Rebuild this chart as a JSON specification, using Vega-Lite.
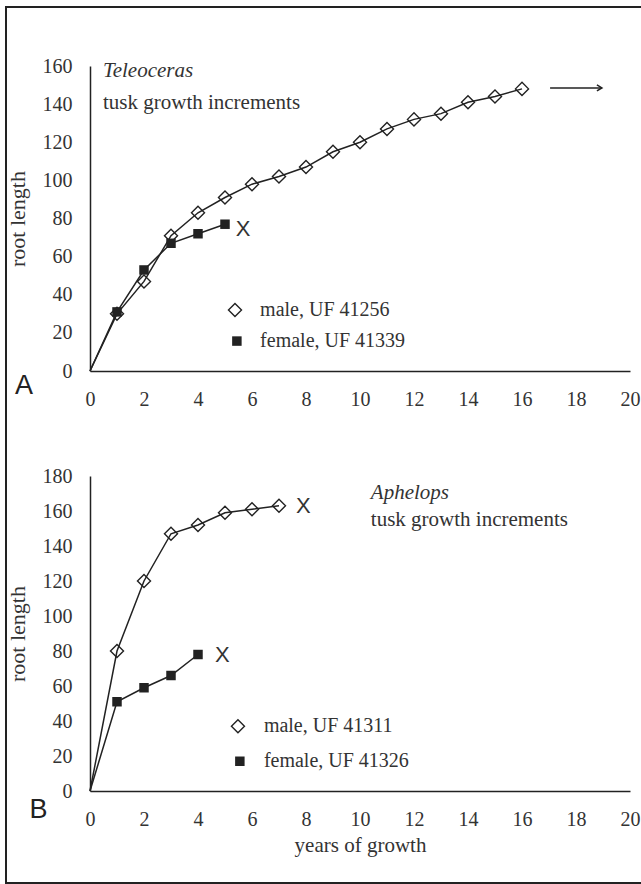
{
  "$schema": "https://vega.github.io/schema/vega-lite/v6.json",
  "background": "white",
  "padding": {"left": 5, "top": 5, "right": 0, "bottom": 0},
  "bounds": "flush",
  "spacing": 105,
  "config": {
    "view": {"stroke": null},
    "axis": {
      "domainColor": "#222", "domainWidth": 1.5, "ticks": false, "tickSize": 0, "grid": false,
      "labelFont": "Liberation Serif", "labelFontSize": 20, "labelColor": "#333",
      "labelFlush": false, "labelOverlap": false,
      "titleFont": "Liberation Serif", "titleFontSize": 21, "titleFontWeight": "normal", "titleColor": "#333"
    },
    "axisX": {"labelPadding": 18, "titlePadding": 5},
    "axisY": {"labelPadding": 18, "titlePadding": 13, "titleFontSize": 22}
  },
  "datasets": {
    "teleoceras": [
      {"year": 0, "length": 0, "sex": "male"},
      {"year": 1, "length": 30, "sex": "male"},
      {"year": 2, "length": 47, "sex": "male"},
      {"year": 3, "length": 71, "sex": "male"},
      {"year": 4, "length": 83, "sex": "male"},
      {"year": 5, "length": 91, "sex": "male"},
      {"year": 6, "length": 98, "sex": "male"},
      {"year": 7, "length": 102, "sex": "male"},
      {"year": 8, "length": 107, "sex": "male"},
      {"year": 9, "length": 115, "sex": "male"},
      {"year": 10, "length": 120, "sex": "male"},
      {"year": 11, "length": 127, "sex": "male"},
      {"year": 12, "length": 132, "sex": "male"},
      {"year": 13, "length": 135, "sex": "male"},
      {"year": 14, "length": 141, "sex": "male"},
      {"year": 15, "length": 144, "sex": "male"},
      {"year": 16, "length": 148, "sex": "male"},
      {"year": 0, "length": 0, "sex": "female"},
      {"year": 1, "length": 31, "sex": "female"},
      {"year": 2, "length": 53, "sex": "female"},
      {"year": 3, "length": 67, "sex": "female"},
      {"year": 4, "length": 72, "sex": "female"},
      {"year": 5, "length": 77, "sex": "female"}
    ],
    "aphelops": [
      {"year": 0, "length": 0, "sex": "male"},
      {"year": 1, "length": 80, "sex": "male"},
      {"year": 2, "length": 120, "sex": "male"},
      {"year": 3, "length": 147, "sex": "male"},
      {"year": 4, "length": 152, "sex": "male"},
      {"year": 5, "length": 159, "sex": "male"},
      {"year": 6, "length": 161, "sex": "male"},
      {"year": 7, "length": 163, "sex": "male"},
      {"year": 0, "length": 0, "sex": "female"},
      {"year": 1, "length": 51, "sex": "female"},
      {"year": 2, "length": 59, "sex": "female"},
      {"year": 3, "length": 66, "sex": "female"},
      {"year": 4, "length": 78, "sex": "female"}
    ],
    "one": [{"k": 1}]
  },
  "vconcat": [
    {
      "width": 540, "height": 305,
      "resolve": {"axis": {"x": "independent", "y": "independent"}},
      "layer": [
        {"data": {"name": "teleoceras"},
         "mark": {"type": "line", "color": "#222", "strokeWidth": 1.5},
         "encoding": {
           "x": {"field": "year", "type": "quantitative", "scale": {"domain": [0, 20]},
                 "axis": {"values": [0, 2, 4, 6, 8, 10, 12, 14, 16, 18, 20], "title": null, "labelOverlap": false}},
           "y": {"field": "length", "type": "quantitative", "scale": {"domain": [0, 160]},
                 "axis": {"values": [0, 20, 40, 60, 80, 100, 120, 140, 160], "title": "root length", "labelOverlap": false}},
           "detail": {"field": "sex"}}},
        {"data": {"name": "one"},
         "mark": {"type": "rect", "fill": null, "stroke": "#222", "strokeWidth": 2},
         "encoding": {"x": {"datum": -3.111, "type": "quantitative", "axis": null}, "x2": {"datum": 21.5}, "y": {"datum": 190.97, "type": "quantitative", "axis": null}, "y2": {"datum": -268.6}}},
        {"data": {"name": "teleoceras"},
         "transform": [{"filter": "datum.sex == 'male' && datum.year > 0"}],
         "mark": {"type": "point", "shape": "diamond", "filled": false, "color": "#222", "strokeWidth": 1.4, "size": 170, "opacity": 1},
         "encoding": {"x": {"field": "year", "type": "quantitative", "axis": null}, "y": {"field": "length", "type": "quantitative", "axis": null}}},
        {"data": {"name": "teleoceras"},
         "transform": [{"filter": "datum.sex == 'female' && datum.year > 0"}],
         "mark": {"type": "point", "shape": "square", "filled": true, "color": "#222", "size": 90, "opacity": 1},
         "encoding": {"x": {"field": "year", "type": "quantitative", "axis": null}, "y": {"field": "length", "type": "quantitative", "axis": null}}},
        {"data": {"name": "one"},
         "mark": {"type": "text", "text": "Teleoceras", "font": "Liberation Serif", "fontStyle": "italic", "fontSize": 21, "align": "left", "baseline": "alphabetic", "color": "#333"},
         "encoding": {"x": {"datum": 0.48, "type": "quantitative", "axis": null}, "y": {"datum": 154.2, "type": "quantitative", "axis": null}}},
        {"data": {"name": "one"},
         "mark": {"type": "text", "text": "tusk growth increments", "font": "Liberation Serif", "fontSize": 21, "align": "left", "baseline": "alphabetic", "color": "#333"},
         "encoding": {"x": {"datum": 0.48, "type": "quantitative", "axis": null}, "y": {"datum": 137.5, "type": "quantitative", "axis": null}}},
        {"data": {"name": "one"},
         "mark": {"type": "text", "text": "X", "font": "Liberation Sans", "fontSize": 22, "align": "center", "baseline": "middle", "color": "#333"},
         "encoding": {"x": {"datum": 5.67, "type": "quantitative", "axis": null}, "y": {"datum": 74.5, "type": "quantitative", "axis": null}}},
        {"data": {"name": "one"},
         "mark": {"type": "rule", "color": "#222", "strokeWidth": 1.5},
         "encoding": {"x": {"datum": 17.04, "type": "quantitative", "axis": null}, "x2": {"datum": 18.96}, "y": {"datum": 148.5, "type": "quantitative", "axis": null}}},
        {"data": {"name": "one"},
         "mark": {"type": "point", "shape": "M-1,-0.6L0,0L-1,0.6", "filled": false, "color": "#222", "strokeWidth": 1.5, "size": 100, "opacity": 1},
         "encoding": {"x": {"datum": 18.96, "type": "quantitative", "axis": null}, "y": {"datum": 148.5, "type": "quantitative", "axis": null}}},
        {"data": {"name": "one"},
         "mark": {"type": "point", "shape": "diamond", "filled": false, "color": "#222", "strokeWidth": 1.4, "size": 170, "opacity": 1},
         "encoding": {"x": {"datum": 5.37, "type": "quantitative", "axis": null}, "y": {"datum": 32, "type": "quantitative", "axis": null}}},
        {"data": {"name": "one"},
         "mark": {"type": "point", "shape": "square", "filled": true, "color": "#222", "size": 90, "opacity": 1},
         "encoding": {"x": {"datum": 5.44, "type": "quantitative", "axis": null}, "y": {"datum": 15.7, "type": "quantitative", "axis": null}}},
        {"data": {"name": "one"},
         "mark": {"type": "text", "text": "male, UF 41256", "font": "Liberation Serif", "fontSize": 20, "align": "left", "baseline": "middle", "color": "#333"},
         "encoding": {"x": {"datum": 6.3, "type": "quantitative", "axis": null}, "y": {"datum": 32, "type": "quantitative", "axis": null}}},
        {"data": {"name": "one"},
         "mark": {"type": "text", "text": "female, UF 41339", "font": "Liberation Serif", "fontSize": 20, "align": "left", "baseline": "middle", "color": "#333"},
         "encoding": {"x": {"datum": 6.3, "type": "quantitative", "axis": null}, "y": {"datum": 15.7, "type": "quantitative", "axis": null}}},
        {"data": {"name": "one"},
         "mark": {"type": "text", "text": "A", "font": "Liberation Sans", "fontSize": 27, "align": "center", "baseline": "alphabetic", "color": "#222"},
         "encoding": {"x": {"datum": -2.44, "type": "quantitative", "axis": null}, "y": {"datum": -12.07, "type": "quantitative", "axis": null}}}
      ]
    },
    {
      "width": 540, "height": 315,
      "resolve": {"axis": {"x": "independent", "y": "independent"}},
      "layer": [
        {"data": {"name": "aphelops"},
         "mark": {"type": "line", "color": "#222", "strokeWidth": 1.5},
         "encoding": {
           "x": {"field": "year", "type": "quantitative", "scale": {"domain": [0, 20]},
                 "axis": {"values": [0, 2, 4, 6, 8, 10, 12, 14, 16, 18, 20], "title": "years of growth", "labelOverlap": false}},
           "y": {"field": "length", "type": "quantitative", "scale": {"domain": [0, 180]},
                 "axis": {"values": [0, 20, 40, 60, 80, 100, 120, 140, 160, 180], "title": "root length", "labelOverlap": false}},
           "detail": {"field": "sex"}}},
        {"data": {"name": "aphelops"},
         "transform": [{"filter": "datum.sex == 'male' && datum.year > 0"}],
         "mark": {"type": "point", "shape": "diamond", "filled": false, "color": "#222", "strokeWidth": 1.4, "size": 170, "opacity": 1},
         "encoding": {"x": {"field": "year", "type": "quantitative", "axis": null}, "y": {"field": "length", "type": "quantitative", "axis": null}}},
        {"data": {"name": "aphelops"},
         "transform": [{"filter": "datum.sex == 'female' && datum.year > 0"}],
         "mark": {"type": "point", "shape": "square", "filled": true, "color": "#222", "size": 90, "opacity": 1},
         "encoding": {"x": {"field": "year", "type": "quantitative", "axis": null}, "y": {"field": "length", "type": "quantitative", "axis": null}}},
        {"data": {"name": "one"},
         "mark": {"type": "text", "text": "Aphelops", "font": "Liberation Serif", "fontStyle": "italic", "fontSize": 21, "align": "left", "baseline": "alphabetic", "color": "#333"},
         "encoding": {"x": {"datum": 10.4, "type": "quantitative", "axis": null}, "y": {"datum": 166.9, "type": "quantitative", "axis": null}}},
        {"data": {"name": "one"},
         "mark": {"type": "text", "text": "tusk growth increments", "font": "Liberation Serif", "fontSize": 21, "align": "left", "baseline": "alphabetic", "color": "#333"},
         "encoding": {"x": {"datum": 10.4, "type": "quantitative", "axis": null}, "y": {"datum": 151.4, "type": "quantitative", "axis": null}}},
        {"data": {"name": "one"},
         "mark": {"type": "text", "text": "X", "font": "Liberation Sans", "fontSize": 22, "align": "center", "baseline": "middle", "color": "#333"},
         "encoding": {"x": {"datum": 7.9, "type": "quantitative", "axis": null}, "y": {"datum": 163, "type": "quantitative", "axis": null}}},
        {"data": {"name": "one"},
         "mark": {"type": "text", "text": "X", "font": "Liberation Sans", "fontSize": 22, "align": "center", "baseline": "middle", "color": "#333"},
         "encoding": {"x": {"datum": 4.9, "type": "quantitative", "axis": null}, "y": {"datum": 77.7, "type": "quantitative", "axis": null}}},
        {"data": {"name": "one"},
         "mark": {"type": "point", "shape": "diamond", "filled": false, "color": "#222", "strokeWidth": 1.4, "size": 170, "opacity": 1},
         "encoding": {"x": {"datum": 5.48, "type": "quantitative", "axis": null}, "y": {"datum": 37, "type": "quantitative", "axis": null}}},
        {"data": {"name": "one"},
         "mark": {"type": "point", "shape": "square", "filled": true, "color": "#222", "size": 90, "opacity": 1},
         "encoding": {"x": {"datum": 5.55, "type": "quantitative", "axis": null}, "y": {"datum": 17, "type": "quantitative", "axis": null}}},
        {"data": {"name": "one"},
         "mark": {"type": "text", "text": "male, UF 41311", "font": "Liberation Serif", "fontSize": 20, "align": "left", "baseline": "middle", "color": "#333"},
         "encoding": {"x": {"datum": 6.44, "type": "quantitative", "axis": null}, "y": {"datum": 37, "type": "quantitative", "axis": null}}},
        {"data": {"name": "one"},
         "mark": {"type": "text", "text": "female, UF 41326", "font": "Liberation Serif", "fontSize": 20, "align": "left", "baseline": "middle", "color": "#333"},
         "encoding": {"x": {"datum": 6.44, "type": "quantitative", "axis": null}, "y": {"datum": 17, "type": "quantitative", "axis": null}}},
        {"data": {"name": "one"},
         "mark": {"type": "text", "text": "B", "font": "Liberation Sans", "fontSize": 27, "align": "center", "baseline": "alphabetic", "color": "#222"},
         "encoding": {"x": {"datum": -1.91, "type": "quantitative", "axis": null}, "y": {"datum": -15.4, "type": "quantitative", "axis": null}}}
      ]
    }
  ]
}
